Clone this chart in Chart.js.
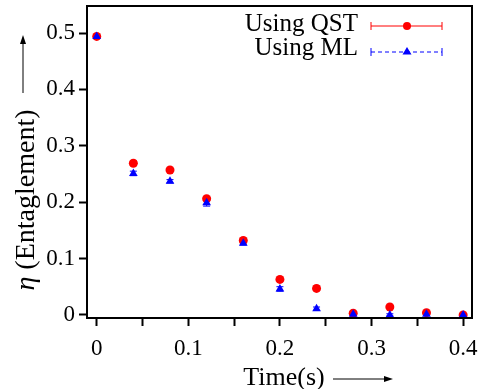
<!DOCTYPE html>
<html>
<head>
<meta charset="utf-8">
<script src="https://cdn.jsdelivr.net/npm/chart.js@4"></script>
<style>
  html, body { margin: 0; padding: 0; background: #fff; }
  canvas { display: block; }
</style>
</head>
<body>
<canvas id="chart" width="481" height="389"></canvas>
<script>
// values
const timeValues = [0, 0.04, 0.08, 0.12, 0.16, 0.2, 0.24, 0.28, 0.32, 0.36, 0.4];
const qstValues = [0.494, 0.269, 0.257, 0.206, 0.132, 0.063, 0.047, 0.003, 0.014, 0.004, 0.0];
const qstErr    = [0.002, 0.004, 0.002, 0.002, 0.004, 0.002, 0.004, 0.002, 0.002, 0.002, 0.001];
const mlValues  = [0.494, 0.251, 0.237, 0.199, 0.127, 0.046, 0.011, 0.001, 0.0, 0.001, 0.0];
const mlErr     = [0.002, 0.004, 0.003, 0.006, 0.003, 0.004, 0.003, 0.002, 0.002, 0.002, 0.001];
const xTicks = [0, 0.05, 0.1, 0.15, 0.2, 0.25, 0.3, 0.35, 0.4];
const xLabels = ['0', '', '0.1', '', '0.2', '', '0.3', '', '0.4'];
const yTicks = [0, 0.1, 0.2, 0.3, 0.4, 0.5];
const yLabels = ['0', '0.1', '0.2', '0.3', '0.4', '0.5'];

const SERIF = '"Liberation Serif", "DejaVu Serif", serif';
const RED = '#ff0000';
const BLUE = '#0000ff';

function toPoints(ys) {
    return ys.map(function (y, i) { return { x: timeValues[i], y: y }; });
}

// error bars, drawn under the markers
const errorBars = {
    id: 'errorBars',
    beforeDatasetsDraw: function (chart) {
        const ctx = chart.ctx;
        const xs = chart.scales.x, ys = chart.scales.y;
        const sets = [[qstValues, qstErr, RED], [mlValues, mlErr, BLUE]];
        ctx.save();
        ctx.lineWidth = 1;
        sets.forEach(function (s) {
            ctx.strokeStyle = s[2];
            s[0].forEach(function (v, i) {
                const px = xs.getPixelForValue(timeValues[i]);
                const top = ys.getPixelForValue(v + s[1][i]);
                const bot = ys.getPixelForValue(v - s[1][i]);
                ctx.beginPath();
                ctx.moveTo(px, top); ctx.lineTo(px, bot);
                ctx.moveTo(px - 3.5, top); ctx.lineTo(px + 3.5, top);
                ctx.moveTo(px - 3.5, bot); ctx.lineTo(px + 3.5, bot);
                ctx.stroke();
            });
        });
        ctx.restore();
    }
};

function drawArrow(ctx, x1, y1, x2, y2) {
    const a = Math.atan2(y2 - y1, x2 - x1);
    ctx.beginPath();
    ctx.moveTo(x1, y1); ctx.lineTo(x2 - 6 * Math.cos(a), y2 - 6 * Math.sin(a));
    ctx.stroke();
    ctx.beginPath();
    ctx.moveTo(x2, y2);
    ctx.lineTo(x2 - 9 * Math.cos(a) + 3 * Math.sin(a), y2 - 9 * Math.sin(a) - 3 * Math.cos(a));
    ctx.lineTo(x2 - 9 * Math.cos(a) - 3 * Math.sin(a), y2 - 9 * Math.sin(a) + 3 * Math.cos(a));
    ctx.closePath();
    ctx.fill();
}

// frame, legend and axis titles
const decorations = {
    id: 'decorations',
    afterDraw: function (chart) {
        const ctx = chart.ctx;
        const a = chart.chartArea;
        ctx.save();
        ctx.strokeStyle = '#000';
        ctx.fillStyle = '#000';
        ctx.lineWidth = 2;
        ctx.strokeRect(a.left, a.top, a.right - a.left, a.bottom - a.top);

        // legend
        ctx.font = '25px ' + SERIF;
        ctx.textAlign = 'right';
        ctx.textBaseline = 'alphabetic';
        ctx.fillText('Using QST', 358, 31);
        ctx.fillText('Using ML', 358, 55);

        ctx.lineWidth = 1;
        ctx.strokeStyle = RED;
        ctx.beginPath();
        ctx.moveTo(371, 26); ctx.lineTo(442, 26);
        ctx.moveTo(371, 22); ctx.lineTo(371, 30);
        ctx.moveTo(442, 22); ctx.lineTo(442, 30);
        ctx.stroke();
        ctx.fillStyle = RED;
        ctx.beginPath(); ctx.arc(407, 26, 4, 0, Math.PI * 2); ctx.fill();

        ctx.strokeStyle = BLUE;
        ctx.setLineDash([4, 3]);
        ctx.beginPath();
        ctx.moveTo(371, 52); ctx.lineTo(442, 52);
        ctx.stroke();
        ctx.setLineDash([]);
        ctx.beginPath();
        ctx.moveTo(371, 48); ctx.lineTo(371, 56);
        ctx.moveTo(442, 48); ctx.lineTo(442, 56);
        ctx.stroke();
        ctx.fillStyle = BLUE;
        ctx.beginPath();
        ctx.moveTo(407, 47); ctx.lineTo(411.5, 54.5); ctx.lineTo(402.5, 54.5);
        ctx.closePath(); ctx.fill();

        // x title
        ctx.fillStyle = '#000';
        ctx.strokeStyle = '#000';
        ctx.textAlign = 'center';
        ctx.font = '26px ' + SERIF;
        ctx.fillText('Time(s)', 284, 385);
        drawArrow(ctx, 333, 379, 393, 379);

        // y title, rotated
        ctx.save();
        ctx.translate(34, 200);
        ctx.rotate(-Math.PI / 2);
        ctx.textAlign = 'left';
        const italic = 'italic 28px ' + SERIF;
        const normal = '28px ' + SERIF;
        ctx.font = italic;
        const w1 = ctx.measureText('\u03b7').width;
        ctx.font = normal;
        const rest = ' (Entaglement)';
        const w2 = ctx.measureText(rest).width;
        const x0 = -(w1 + w2) / 2;
        ctx.font = italic;
        ctx.fillText('\u03b7', x0, 0);
        ctx.font = normal;
        ctx.fillText(rest, x0 + w1, 0);
        ctx.restore();
        drawArrow(ctx, 23, 93, 23, 35);

        ctx.restore();
    }
};

function noPadding(s) {
    s.paddingLeft = 0; s.paddingRight = 0; s.paddingTop = 0; s.paddingBottom = 0;
}

new Chart(document.getElementById('chart'), {
    type: 'scatter',
    data: {
        datasets: [
            {
                label: 'Using QST',
                data: toPoints(qstValues),
                order: 1,
                pointStyle: 'circle',
                pointRadius: 4.5,
                backgroundColor: RED,
                borderColor: RED,
                borderWidth: 0
            },
            {
                label: 'Using ML',
                data: toPoints(mlValues),
                order: 0,
                pointStyle: 'triangle',
                pointRadius: 5,
                backgroundColor: BLUE,
                borderColor: BLUE,
                borderWidth: 0
            }
        ]
    },
    options: {
        responsive: false,
        animation: false,
        layout: { padding: { top: 6, right: 9, left: 0, bottom: 0 } },
        plugins: {
            legend: { display: false },
            tooltip: { enabled: false }
        },
        scales: {
            x: {
                type: 'linear',
                min: -0.0106,
                max: 0.4097,
                border: { display: false },
                grid: { drawOnChartArea: false, drawTicks: true, tickLength: 8, tickWidth: 2, tickColor: '#000' },
                ticks: {
                    color: '#000',
                    font: { family: SERIF, size: 23 },
                    padding: 9,
                    maxRotation: 0,
                    autoSkip: false,
                    callback: function (v, i) { return xLabels[i]; }
                },
                afterBuildTicks: function (s) { s.ticks = xTicks.map(function (v) { return { value: v }; }); },
                afterFit: function (s) { s.height = 71; noPadding(s); }
            },
            y: {
                type: 'linear',
                min: -0.0055,
                max: 0.548,
                border: { display: false },
                grid: { drawOnChartArea: false, drawTicks: true, tickLength: 8, tickWidth: 2, tickColor: '#000' },
                ticks: {
                    color: '#000',
                    font: { family: SERIF, size: 23 },
                    padding: 4,
                    autoSkip: false,
                    callback: function (v, i) { return yLabels[i]; }
                },
                afterBuildTicks: function (s) { s.ticks = yTicks.map(function (v) { return { value: v }; }); },
                afterFit: function (s) { s.width = 87; noPadding(s); }
            }
        }
    },
    plugins: [errorBars, decorations]
});
</script>
</body>
</html>
